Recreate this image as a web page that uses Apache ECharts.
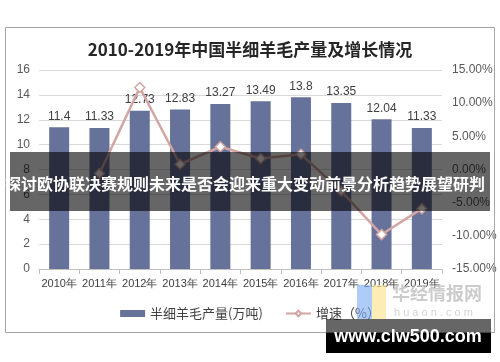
<!DOCTYPE html>
<html><head><meta charset="utf-8">
<script src="https://cdn.jsdelivr.net/npm/echarts@6/dist/echarts.min.js"></script>
<style>html,body{margin:0;padding:0;background:#fff}#c{width:500px;height:362px}</style>
</head><body><div id="c"></div>
<script>
var titleText = '2010-2019年中国半细羊毛产量及增长情况';
var categories = ['2010年','2011年','2012年','2013年','2014年','2015年','2016年','2017年','2018年','2019年'];
var production = [11.4, 11.33, 12.73, 12.83, 13.27, 13.49, 13.8, 13.35, 12.04, 11.33];
var growth = [null, -0.61, 12.36, 0.79, 3.43, 1.66, 2.30, -3.26, -9.81, -5.90];
var seriesNames = ['半细羊毛产量(万吨)', '增速（%）'];
var bannerText = '探讨欧协联决赛规则未来是否会迎来重大变动前景分析趋势展望研判';
var siteText = 'www.clw500.com';

var chart = echarts.init(document.getElementById('c'), null, {renderer:'canvas'});
var numFont = 'Liberation Sans, Arial, sans-serif';
var cjkFont = 'Noto Sans CJK SC, sans-serif';
chart.setOption({
  animation: false,
  backgroundColor: '#fff',
  title: {
    text: titleText, left: 'center', top: 36,
    textStyle: {fontFamily: 'Noto Sans CJK SC', fontWeight: 'bold', fontSize: 17, color: '#262626'}
  },
  grid: {left: 39, right: 58, top: 70, bottom: 93},
  legend: {
    bottom: 37, left: 'center', itemWidth: 25, itemHeight: 7, itemGap: 22,
    textStyle: {fontFamily: cjkFont, fontSize: 13, color: '#404040'},
    data: [{name: seriesNames[0], icon: 'rect'}, {name: seriesNames[1]}]
  },
  xAxis: {
    type: 'category', data: categories,
    axisLine: {lineStyle: {color: '#bfbfbf'}},
    axisTick: {show: true, length: 5, lineStyle: {color: '#bfbfbf'}},
    axisLabel: {fontFamily: numFont, fontSize: 11, color: '#404040', margin: 9, interval: 0}
  },
  yAxis: [{
    type: 'value', min: 0, max: 16, interval: 2,
    axisLine: {show: false}, axisTick: {show: false},
    axisLabel: {fontFamily: numFont, fontSize: 12, color: '#595959', margin: 9},
    splitLine: {lineStyle: {color: '#d9d9d9'}}
  }, {
    type: 'value', min: -15, max: 15, interval: 5,
    axisLine: {show: false}, axisTick: {show: false},
    axisLabel: {fontFamily: numFont, fontSize: 12, color: '#595959', margin: 10,
      formatter: function(v){ return v.toFixed(2) + '%'; }},
    splitLine: {show: false}
  }],
  series: [{
    name: seriesNames[0], type: 'bar', data: production, barWidth: 20,
    itemStyle: {color: '#67729a'},
    label: {show: true, position: 'top', distance: 5, fontFamily: numFont, fontSize: 12, color: '#404040'}
  }, {
    name: seriesNames[1], type: 'line', yAxisIndex: 1, data: growth,
    symbol: 'diamond', symbolSize: 10,
    lineStyle: {color: '#d3a5a2', width: 2.5},
    itemStyle: {color: '#fff', borderColor: '#d3a5a2', borderWidth: 1.5}
  }],
  graphic: [
    {type: 'rect', shape: {x: 5.5, y: 27.5, width: 489, height: 305}, style: {fill: 'none', stroke: '#a6a6a6', lineWidth: 1}, z: 100},
    {type: 'rect', shape: {x: 357, y: 285, width: 15, height: 34}, style: {fill: 'rgba(120,170,240,0.6)'}, z: 101},
    {type: 'rect', shape: {x: 372, y: 285, width: 14, height: 34}, style: {fill: 'rgba(250,230,150,0.7)'}, z: 101},
    {type: 'text', style: {x: 392, y: 284, text: '华经情报网', fill: 'rgba(190,190,190,0.8)', font: 'bold 18px Noto Sans CJK SC'}, z: 101},
    {type: 'text', style: {x: 394, y: 307, text: 'h u a o n . c o m', fill: 'rgba(200,200,200,0.8)', font: '11px Liberation Sans'}, z: 101},
    {type: 'rect', shape: {x: 10, y: 152, width: 480, height: 59}, style: {fill: 'rgba(0,0,0,0.6)'}, z: 102},
    {type: 'text', style: {x: 245, y: 184, text: bannerText, fill: '#fff', font: 'bold 16px Noto Sans CJK SC', align: 'center', verticalAlign: 'middle'}, z: 103},
    {type: 'rect', shape: {x: 326, y: 319, width: 165, height: 14}, style: {fill: 'rgba(0,0,0,0.6)'}, z: 102},
    {type: 'rect', shape: {x: 326, y: 333, width: 165, height: 20}, style: {fill: '#000'}, z: 102},
    {type: 'text', style: {x: 408, y: 337, text: siteText, fill: '#fff', font: 'bold 18px Liberation Sans', align: 'center', verticalAlign: 'middle'}, z: 103}
  ]
});
</script></body></html>
